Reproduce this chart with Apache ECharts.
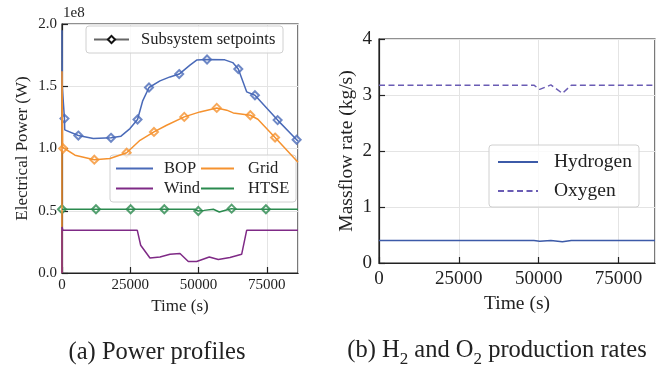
<!DOCTYPE html>
<html>
<head>
<meta charset="utf-8">
<script src="https://cdn.jsdelivr.net/npm/echarts@6/dist/echarts.min.js"></script>
<style>
  html, body { margin: 0; padding: 0; background: #fff; }
  #chart { width: 660px; height: 369px; }
</style>
</head>
<body>
<div id="chart"></div>
<script>
// (a) power profiles, values in units of 1e8 W
var bopT = [0, 100, 900, 1000, 5970, 11460, 17940, 21600, 24890, 27650, 29500, 31850, 35870, 39530, 42900, 46850, 49300, 53100, 59600, 62500, 64540, 67600, 70640, 78940, 85900, 86400];
var bopV = [1.95, 1.50, 1.24, 1.15, 1.104, 1.08, 1.086, 1.099, 1.16, 1.233, 1.38, 1.49, 1.543, 1.575, 1.598, 1.67, 1.71, 1.715, 1.712, 1.69, 1.638, 1.455, 1.428, 1.228, 1.07, 1.062];
var gridT = [0, 0, 200, 450, 4760, 11830, 17570, 23670, 28550, 33670, 38300, 44770, 50500, 56650, 60300, 62700, 68950, 71700, 78000, 86400];
var gridV = [0, 1.62, 1.01, 1.0, 0.946, 0.91, 0.92, 0.966, 1.066, 1.133, 1.187, 1.254, 1.294, 1.326, 1.308, 1.286, 1.267, 1.235, 1.088, 0.89];
var windT = [0, 0, 300, 27570, 28800, 32200, 35870, 39530, 43190, 46240, 49300, 53920, 57220, 61490, 65770, 67600, 86400];
var windV = [0, 0.37, 0.343, 0.343, 0.223, 0.12, 0.129, 0.15, 0.156, 0.092, 0.092, 0.129, 0.108, 0.124, 0.15, 0.343, 0.343];
var htseT = [0, 48500, 49900, 52000, 55400, 57600, 60500, 62100, 63500, 86400];
var htseV = [0.512, 0.512, 0.498, 0.503, 0.512, 0.49, 0.508, 0.517, 0.512, 0.512];

// setpoint markers
var bopSpT = [900, 5970, 17940, 27650, 31850, 42900, 53100, 64540, 70640, 78940, 85900];
var bopSpV = [1.24, 1.104, 1.086, 1.233, 1.49, 1.598, 1.715, 1.638, 1.428, 1.228, 1.07];
var gridSpT = [450, 11830, 23670, 33670, 44770, 56650, 68950, 78000];
var gridSpV = [1.0, 0.91, 0.966, 1.133, 1.254, 1.326, 1.267, 1.088];
var htseSpT = [0, 12440, 25130, 37450, 49900, 62100, 74660];
var htseSpV = [0.512, 0.512, 0.512, 0.512, 0.498, 0.517, 0.512];

// (b) mass flow rates (kg/s)
var flowT = [0, 48500, 50300, 53800, 57400, 60200, 86400];
var h2V = [0.40, 0.40, 0.39, 0.40, 0.38, 0.40, 0.40];
var o2V = [3.175, 3.175, 3.10, 3.18, 3.03, 3.175, 3.175];

var xTicks = [0, 25000, 50000, 75000];

function zip(a, b) {
    return a.map(function (t, i) { return [t, b[i]]; });
}

var FONT = 'Liberation Serif';
var INK = '#222';
var C_BOP = '#4a6ab8', C_GRID = '#f5922f', C_WIND = '#7f2a86', C_HTSE = '#2a8a4e';
var C_H2 = '#3c5aa8', C_O2 = '#6a5cb4';

function xAxisOf(gi, fs, margin) {
    return {
        type: 'value', gridIndex: gi, min: 0, max: 86400, interval: 25000,
        name: 'Time (s)', nameLocation: 'middle', nameGap: gi === 0 ? 21 : 28,
        nameTextStyle: { fontFamily: FONT, fontSize: gi === 0 ? 17 : 19.5, color: INK },
        axisLine: { show: true, lineStyle: { color: INK, width: 1.2 } },
        axisTick: { inside: true, length: 6, lineStyle: { color: INK, width: 1.2 } },
        axisLabel: { fontFamily: FONT, fontSize: fs, color: INK, margin: margin, showMaxLabel: false,
            formatter: function (v) { return xTicks.indexOf(v) >= 0 ? String(v) : ''; } },
        splitLine: { show: true, lineStyle: { color: '#e4e4e4', width: 1 } }
    };
}

var lineOnly = { opacity: 0 };

var myChart = echarts.init(document.getElementById('chart'));
myChart.setOption({
    animation: false,
    backgroundColor: '#fff',
    grid: [
        { left: 62, top: 24, width: 236, height: 249, show: true, borderColor: INK, borderWidth: 1.2 },
        { left: 379, top: 39, width: 276, height: 224, show: true, borderColor: INK, borderWidth: 1.2 }
    ],
    xAxis: [xAxisOf(0, 15, 5), xAxisOf(1, 19, 7)],
    yAxis: [
        {
            type: 'value', gridIndex: 0, min: 0, max: 2, interval: 0.5,
            name: 'Electrical Power (W)', nameLocation: 'middle', nameGap: 31,
            nameTextStyle: { fontFamily: FONT, fontSize: 17, color: INK },
            axisLine: { show: true, lineStyle: { color: INK, width: 1.2 } },
            axisTick: { show: true, inside: true, length: 6, lineStyle: { color: INK, width: 1.2 } },
            axisLabel: { fontFamily: FONT, fontSize: 15, color: INK, margin: 5,
                formatter: function (v) { return v.toFixed(1); } },
            splitLine: { show: true, lineStyle: { color: '#e4e4e4', width: 1 } }
        },
        {
            type: 'value', gridIndex: 1, min: 0, max: 4, interval: 1,
            name: 'Massflow rate (kg/s)', nameLocation: 'middle', nameGap: 22,
            nameTextStyle: { fontFamily: FONT, fontSize: 19.5, color: INK },
            axisLine: { show: true, lineStyle: { color: INK, width: 1.2 } },
            axisTick: { show: true, inside: true, length: 6, lineStyle: { color: INK, width: 1.2 } },
            axisLabel: { fontFamily: FONT, fontSize: 19, color: INK, margin: 7 },
            splitLine: { show: true, lineStyle: { color: '#e4e4e4', width: 1 } }
        }
    ],
    legend: [
        {
            data: ['Subsystem setpoints'], left: 93, top: 31, padding: 0,
            itemWidth: 35, itemHeight: 9,
            textStyle: { fontFamily: FONT, fontSize: 16.5, color: INK, padding: [0, 0, 0, 7] }
        },
        {
            data: ['BOP', 'Wind'], orient: 'vertical', left: 115, top: 160, padding: 0,
            itemWidth: 37, itemHeight: 14, itemGap: 3, itemStyle: lineOnly,
            textStyle: { fontFamily: FONT, fontSize: 16.5, color: INK, padding: [0, 0, 0, 6] }
        },
        {
            data: ['Grid', 'HTSE'], orient: 'vertical', left: 200, top: 160, padding: 0,
            itemWidth: 33, itemHeight: 14, itemGap: 3, itemStyle: lineOnly,
            textStyle: { fontFamily: FONT, fontSize: 16.5, color: INK, padding: [0, 0, 0, 9] }
        },
        {
            data: ['Hydrogen', 'Oxygen'], orient: 'vertical', left: 497, top: 152, padding: 0,
            itemWidth: 40, itemHeight: 14, itemGap: 9, itemStyle: lineOnly,
            textStyle: { fontFamily: FONT, fontSize: 19.5, color: INK, padding: [0, 0, 0, 11] }
        }
    ],
    graphic: [
        { type: 'rect', z: 3, shape: { x: 86, y: 26, width: 197, height: 27, r: 3 },
          style: { fill: 'rgba(255,255,255,0.8)', stroke: '#d0d0d0', lineWidth: 1 } },
        { type: 'rect', z: 3, shape: { x: 110, y: 155, width: 186, height: 47, r: 3 },
          style: { fill: 'rgba(255,255,255,0.8)', stroke: '#d0d0d0', lineWidth: 1 } },
        { type: 'rect', z: 3, shape: { x: 489, y: 145, width: 150, height: 62, r: 3 },
          style: { fill: 'rgba(255,255,255,0.8)', stroke: '#d0d0d0', lineWidth: 1 } },
        { type: 'text', left: 63, top: 6, style: { text: '1e8', font: '15px "Liberation Serif"', fill: INK } },
        { type: 'text', x: 157, y: 353, style: { text: '(a) Power profiles', font: '24.5px "Liberation Serif"',
            fill: INK, align: 'center', verticalAlign: 'middle' } },
        { type: 'text', x: 497, y: 353, style: {
            text: '{n|(b) H}{s|2}{n| and O}{s|2}{n| production rates}',
            align: 'center', verticalAlign: 'middle', fill: INK,
            rich: {
                n: { fontFamily: FONT, fontSize: 24.5, lineHeight: 30, verticalAlign: 'top', fill: INK },
                s: { fontFamily: FONT, fontSize: 17, lineHeight: 17, verticalAlign: 'bottom', fill: INK }
            } } }
    ],
    series: [
        { name: 'Subsystem setpoints', type: 'line', xAxisIndex: 0, yAxisIndex: 0, data: [],
          color: '#111', symbol: 'emptyDiamond', symbolSize: 7, lineStyle: { width: 1, color: '#666' },
          itemStyle: { borderWidth: 1.6 } },
        { name: 'BOP', type: 'line', xAxisIndex: 0, yAxisIndex: 0, data: zip(bopT, bopV),
          color: C_BOP, symbol: 'none', lineStyle: { width: 1.5 } },
        { name: 'Grid', type: 'line', xAxisIndex: 0, yAxisIndex: 0, data: zip(gridT, gridV),
          color: C_GRID, symbol: 'none', lineStyle: { width: 1.5 } },
        { name: 'Wind', type: 'line', xAxisIndex: 0, yAxisIndex: 0, data: zip(windT, windV),
          color: C_WIND, symbol: 'none', lineStyle: { width: 1.5 } },
        { name: 'HTSE', type: 'line', xAxisIndex: 0, yAxisIndex: 0, data: zip(htseT, htseV),
          color: C_HTSE, symbol: 'none', lineStyle: { width: 1.5 } },
        { type: 'scatter', xAxisIndex: 0, yAxisIndex: 0, data: zip(bopSpT, bopSpV), clip: false,
          symbol: 'emptyDiamond', symbolSize: 8, itemStyle: { color: C_BOP, borderColor: C_BOP, borderWidth: 1.6 } },
        { type: 'scatter', xAxisIndex: 0, yAxisIndex: 0, data: zip(gridSpT, gridSpV), clip: false,
          symbol: 'emptyDiamond', symbolSize: 8, itemStyle: { color: C_GRID, borderColor: C_GRID, borderWidth: 1.6 } },
        { type: 'scatter', xAxisIndex: 0, yAxisIndex: 0, data: zip(htseSpT, htseSpV), clip: false,
          symbol: 'emptyDiamond', symbolSize: 8, itemStyle: { color: C_HTSE, borderColor: C_HTSE, borderWidth: 1.6 } },
        { name: 'Hydrogen', type: 'line', xAxisIndex: 1, yAxisIndex: 1, data: zip(flowT, h2V),
          color: C_H2, symbol: 'none', lineStyle: { width: 1.5 } },
        { name: 'Oxygen', type: 'line', xAxisIndex: 1, yAxisIndex: 1, data: zip(flowT, o2V),
          color: C_O2, symbol: 'none', lineStyle: { width: 1.5, type: [6, 3.5] } }
    ]
});
</script>
</body>
</html>
